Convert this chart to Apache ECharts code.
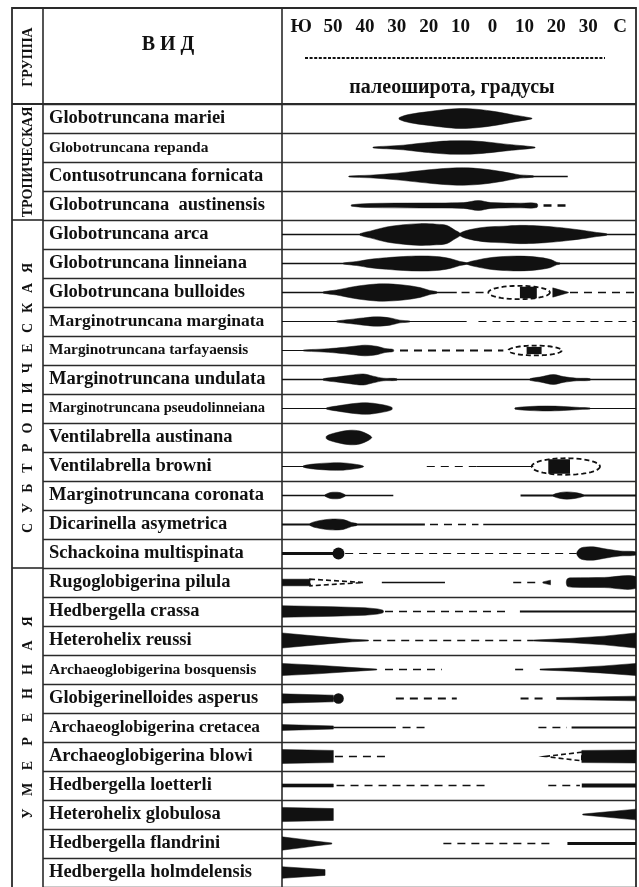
<!DOCTYPE html>
<html><head><meta charset="utf-8">
<script src="https://cdn.jsdelivr.net/npm/echarts@6/dist/echarts.min.js"></script>
<style>html,body{margin:0;padding:0;background:#fff}#c{width:639px;height:887px}</style>
</head><body><div id="c"></div>
<script>
// ================= DATA =================
const species = [
  'Globotruncana mariei', 'Globotruncana repanda', 'Contusotruncana fornicata', 'Globotruncana  austinensis',
  'Globotruncana arca', 'Globotruncana linneiana', 'Globotruncana bulloides', 'Marginotruncana marginata',
  'Marginotruncana tarfayaensis', 'Marginotruncana undulata', 'Marginotruncana pseudolinneiana', 'Ventilabrella austinana',
  'Ventilabrella browni', 'Marginotruncana coronata', 'Dicarinella asymetrica', 'Schackoina multispinata',
  'Rugoglobigerina pilula', 'Hedbergella crassa', 'Heterohelix reussi', 'Archaeoglobigerina bosquensis',
  'Globigerinelloides asperus', 'Archaeoglobigerina cretacea', 'Archaeoglobigerina blowi', 'Hedbergella loetterli',
  'Heterohelix globulosa', 'Hedbergella flandrini', 'Hedbergella holmdelensis'
];
const groupNames = ['ТРОПИЧЕСКАЯ', 'СУБТРОПИЧЕСКАЯ', 'УМЕРЕННАЯ'];
const groupSizes = [4, 12, 11];
const latTicks = [-60, -50, -40, -30, -20, -10, 0, 10, 20, 30, 40];
const latTickLabels = ['Ю', '50', '40', '30', '20', '10', '0', '10', '20', '30', 'С'];
const latRange = [-66, 45];

// solid range lines: [row, fromLat, toLat, thickness (share of row)]
const lines = [
  [2, 10, 23.6, 0.045], [4, -66, 45, 0.045], [5, -66, 45, 0.045], [6, -66, -11.2, 0.045],
  [7, -66, -8.1, 0.035], [8, -66, -57, 0.035], [9, -66, 45, 0.05], [10, -66, -50, 0.035],
  [10, 28, 45, 0.035], [12, -66, -58, 0.035], [12, -5.0, 12.8, 0.035], [13, -66, -31.1, 0.045],
  [13, 8.8, 45, 0.065], [14, -66, -21.2, 0.07], [14, -2.9, 45, 0.045], [15, -66, -49.4, 0.11],
  [16, -34.7, -14.9, 0.045], [17, 8.6, 45, 0.07], [21, -49.9, -30.3, 0.045], [21, 24.8, 45, 0.07],
  [23, 28, 45, 0.13], [25, 23.5, 45, 0.1]
];
// dashed (uncertain) ranges: [row, fromLat, toLat, thickness]
const dashes = [
  [3, 16, 24.1, 0.09], [6, -9.7, -1.8, 0.045], [6, 24.3, 45, 0.045], [7, -4.4, 45, 0.035],
  [8, -29, 3.4, 0.07], [12, -20.6, -5.0, 0.035], [14, -19.6, -4.4, 0.045], [15, -46.2, 26.4, 0.04],
  [16, 6.5, 13.9, 0.045], [17, -33.7, 5.5, 0.055], [18, -37.4, 12.8, 0.045], [19, -33.7, -15.9, 0.055],
  [19, 7.1, 9.9, 0.055], [20, -30.3, -11.2, 0.07], [20, 8.8, 17, 0.07], [21, -28.2, -20.6, 0.055],
  [21, 14.4, 23.3, 0.055], [22, -49.4, -32.1, 0.045], [23, -48.9, -0.8, 0.05], [23, 17.5, 27.4, 0.055],
  [25, -15.4, 18, 0.055]
];
// abundance lenses (smooth outline): [row, [[lat, thickness], ...]]
const lenses = [
  [0, [[-29.2,0.07],[-25.9,0.29],[-20.6,0.46],[-15.4,0.6],[-10.2,0.69],[-5.0,0.64],[1.3,0.46],[6.5,0.25],[12.3,0.03]]],
  [1, [[-37.4,0.035],[-33.2,0.09],[-28,0.16],[-22.7,0.29],[-17.5,0.4],[-13.3,0.46],[-7,0.46],[-1.8,0.38],[3.4,0.25],[8.6,0.14],[13.3,0.03]]],
  [2, [[-45,0.035],[-38.4,0.09],[-30,0.23],[-22.7,0.4],[-15.4,0.55],[-9.1,0.6],[-2.9,0.52],[3.4,0.32],[8.6,0.11],[12.8,0.05]]],
  [3, [[-44.2,0.05],[-38.4,0.14],[-22.7,0.17],[-9,0.2],[-4.4,0.34],[-0.5,0.2],[8.6,0.16],[13.9,0.14]]],
  [4, [[-41.5,0.06],[-38.4,0.23],[-33.2,0.52],[-28,0.67],[-22.7,0.75],[-17.5,0.71],[-14.4,0.63],[-11.7,0.29],[-10.2,0.09]]],
  [4, [[-10.2,0.09],[-7,0.34],[-1.8,0.52],[3.4,0.57],[8.6,0.63],[13.9,0.6],[19.1,0.52],[24.3,0.4],[29.5,0.25],[32.7,0.14],[35.8,0.05]]],
  [5, [[-46.8,0.035],[-42.6,0.14],[-38.4,0.29],[-33.2,0.4],[-28,0.48],[-22.7,0.52],[-17.5,0.48],[-13.3,0.34],[-10.2,0.14],[-8.1,0.05]]],
  [5, [[-8.1,0.05],[-5,0.23],[-0.8,0.4],[3.4,0.48],[8.6,0.51],[13.9,0.44],[18,0.29],[20.1,0.09],[21.2,0.035]]],
  [6, [[-53,0.05],[-48.9,0.17],[-43.6,0.4],[-38.4,0.55],[-34.2,0.6],[-28,0.52],[-22.7,0.34],[-19.6,0.14],[-17.5,0.06]]],
  [7, [[-48.9,0.035],[-44.7,0.14],[-40.5,0.25],[-36.3,0.32],[-32.1,0.25],[-29,0.09],[-25.9,0.035]]],
  [8, [[-59.3,0.035],[-54.1,0.09],[-48.9,0.17],[-43.6,0.29],[-40,0.37],[-36.3,0.29],[-33.7,0.14],[-31.1,0.07]]],
  [9, [[-53,0.06],[-48.9,0.17],[-44.7,0.29],[-40.5,0.38],[-37.4,0.23],[-34.2,0.09],[-30,0.06]]],
  [9, [[11.8,0.06],[14.9,0.17],[19.1,0.34],[22.2,0.2],[26.4,0.09],[30.6,0.06]]],
  [10, [[-52,0.05],[-48.9,0.17],[-43.6,0.34],[-39.5,0.4],[-35.3,0.29],[-31.6,0.09]]],
  [10, [[7.1,0.05],[11.8,0.14],[17,0.17],[22.2,0.14],[27.4,0.07],[30.6,0.04]]],
  [11, [[-52,0.1],[-48.9,0.34],[-44.7,0.5],[-41.5,0.44],[-38.9,0.2],[-37.9,0.03]]],
  [12, [[-59.3,0.05],[-56.2,0.17],[-50.9,0.25],[-46.8,0.25],[-42.6,0.14],[-40.5,0.035]]],
  [13, [[-52.5,0.05],[-50.9,0.2],[-49.4,0.23],[-47.8,0.2],[-46.2,0.05]]],
  [13, [[19.1,0.06],[21.2,0.2],[23.3,0.25],[25.9,0.2],[28.5,0.06]]],
  [14, [[-57.2,0.07],[-55.1,0.23],[-50.9,0.37],[-46.8,0.34],[-44.2,0.14],[-42.6,0.07]]],
  [15, [[26.5,0.1],[27.3,0.32],[28.5,0.43],[31.6,0.46],[34.8,0.34],[40,0.17],[45,0.11]]],
  [16, [[23.2,0.12],[23.6,0.28],[25,0.32],[35,0.35],[45,0.4]]]
];
// abundance wedges / bars (straight outline): [row, [[lat, thickness], ...]]
const wedges = [
  [6, [[18.9,0.32],[23.8,0.02]]],
  [16, [[-66,0.23],[-57.2,0.23]]],
  [16, [[15.8,0.04],[18.2,0.16]]],
  [17, [[-66,0.4],[-50,0.33],[-40,0.26],[-36,0.18],[-34.5,0.1],[-34.2,0.05]]],
  [18, [[-66,0.52],[-58,0.36],[-50,0.2],[-44,0.09],[-38.9,0.03]]],
  [18, [[12.8,0.03],[24,0.14],[35,0.3],[45,0.52]]],
  [19, [[-66,0.42],[-55,0.3],[-45,0.15],[-36.3,0.03]]],
  [19, [[14.9,0.03],[25,0.12],[35,0.25],[45,0.42]]],
  [20, [[-66,0.32],[-49.9,0.23]]],
  [20, [[20.1,0.07],[45,0.16]]],
  [21, [[-66,0.2],[-49.9,0.11]]],
  [22, [[-66,0.48],[-49.9,0.42]]],
  [22, [[28,0.42],[45,0.45]]],
  [23, [[-66,0.11],[-49.9,0.11]]],
  [24, [[-66,0.49],[-49.9,0.41]]],
  [24, [[28.3,0.03],[45,0.37]]],
  [25, [[-66,0.46],[-60,0.3],[-55,0.15],[-50.4,0.04]]],
  [26, [[-66,0.4],[-52.5,0.2]]]
];
// dashed ovals (isolated occurrences): [row, fromLat, toLat, height]
const ovals = [[6, -1.3, 18.0, 0.46], [8, 5.0, 21.7, 0.34], [12, 12.3, 33.7, 0.57]];
// dashed wedge outlines: [row, fromLat, toLat, thicknessFrom, thicknessTo]
const outlineWedges = [[16, -57.2, -40.5, 0.23, 0], [22, 16.5, 28, 0, 0.3]];
// black boxes inside ovals: [row, fromLat, toLat, height]
const boxes = [[6, 8.6, 13.9, 0.4], [8, 10.7, 15.4, 0.25], [12, 17.5, 24.3, 0.5]];
// dots: [row, lat, diameter]
const dots = [[15, -48.3, 0.41], [20, -48.3, 0.37]];

// ================= STYLE / LAYOUT =================
const FONT = "'Liberation Serif', 'Times New Roman', serif";
const INK = '#111';
const RULE = '#2a2a2a';
const frame = { left: 12, top: 8, col1: 43, col2: 282, right: 636, head: 104, rowsH: 787 };
const labelSizeDefault = 18.5;
const labelSize = {
  'Globotruncana repanda': 15.5, 'Marginotruncana marginata': 17.5, 'Marginotruncana tarfayaensis': 15.3,
  'Marginotruncana pseudolinneiana': 14.6, 'Archaeoglobigerina bosquensis': 15.6, 'Archaeoglobigerina cretacea': 17.3
};
const groupLetterGap = [0, 20, 24];
const groupLabelShift = [0, 4, -10];
const DASH = [8, 6];

const rich = {};
species.forEach((s, i) => {
  rich['r' + i] = { fontFamily: FONT, fontWeight: 'bold', fontSize: labelSize[s] || labelSizeDefault, color: INK };
});

const groupRanges = [];
(function () { let acc = 0; groupSizes.forEach(n => { groupRanges.push([acc, acc + n - 1]); acc += n; }); })();

function txt(t, x, y, size, rot) {
  return { type: 'text', x: x, y: y, rotation: rot || 0,
    style: { text: t, font: 'bold ' + size + 'px ' + FONT, fill: INK, textAlign: 'center', textVerticalAlign: 'middle', align: 'center', verticalAlign: 'middle' } };
}

function renderGroup(params, api) {
  const i = params.dataIndex;
  const [r0, r1] = groupRanges[i];
  const band = api.size([0, 1])[1];
  const yTop = api.coord([0, r0])[1] - band / 2;
  const yBot = api.coord([0, r1])[1] + band / 2;
  const cx = (frame.left + params.coordSys.x) / 2 + 1;
  const cy = (yTop + yBot) / 2 + groupLabelShift[i];
  const children = [];
  if (i > 0) children.push({ type: 'line', shape: { x1: frame.left, y1: yTop, x2: params.coordSys.x, y2: yTop }, style: { stroke: RULE, lineWidth: 1.6 } });
  const gap = groupLetterGap[i];
  const name = groupNames[i];
  if (!gap) children.push(txt(name, cx, cy, 14, Math.PI / 2));
  else {
    const ch = name.split('');
    const n = ch.length;
    ch.forEach((c, k) => children.push(txt(c, cx, cy + ((n - 1) / 2 - k) * gap, 14, Math.PI / 2)));
  }
  return { type: 'group', children };
}

function renderRange(src, dashed) {
  return function (params, api) {
    const [row, a, b, t] = src[params.dataIndex];
    const band = api.size([0, 1])[1];
    const p1 = api.coord([a, row]), p2 = api.coord([b, row]);
    return { type: 'line', shape: { x1: p1[0], y1: p1[1], x2: p2[0], y2: p2[1] },
      style: { stroke: INK, fill: 'none', lineWidth: Math.max(1, t * band), lineDash: dashed ? DASH : null } };
  };
}

function renderProfile(src, smooth) {
  return function (params, api) {
    const [row, prof] = src[params.dataIndex];
    const band = api.size([0, 1])[1];
    const top = [], bot = [];
    prof.forEach(([lat, t]) => {
      const p = api.coord([lat, row]);
      top.push([p[0], p[1] - t * band / 2]);
      bot.unshift([p[0], p[1] + t * band / 2]);
    });
    return { type: 'polygon', shape: { points: top.concat(bot), smooth: smooth }, style: { fill: INK, stroke: INK, lineWidth: 0.5 } };
  };
}

function renderOval(params, api) {
  const [row, a, b, h] = ovals[params.dataIndex];
  const band = api.size([0, 1])[1];
  const p1 = api.coord([a, row]), p2 = api.coord([b, row]);
  const cx = (p1[0] + p2[0]) / 2, cy = p1[1], rx = (p2[0] - p1[0]) / 2, ry = h * band / 2;
  const pts = [];
  for (let k = 0; k < 60; k++) { const th = k / 60 * 2 * Math.PI; pts.push([cx + rx * Math.cos(th), cy + ry * Math.sin(th)]); }
  return { type: 'polygon', shape: { points: pts }, style: { fill: 'none', stroke: INK, lineWidth: 1.8, lineDash: [5, 3] } };
}

function renderOutlineWedge(params, api) {
  const [row, a, b, t0, t1] = outlineWedges[params.dataIndex];
  const band = api.size([0, 1])[1];
  const p1 = api.coord([a, row]), p2 = api.coord([b, row]);
  const pts = [[p1[0], p1[1] - t0 * band / 2], [p2[0], p2[1] - t1 * band / 2], [p2[0], p2[1] + t1 * band / 2], [p1[0], p1[1] + t0 * band / 2]];
  return { type: 'polygon', shape: { points: pts }, style: { fill: 'none', stroke: INK, lineWidth: 1.6, lineDash: [5, 3] } };
}

function renderBox(params, api) {
  const [row, a, b, h] = boxes[params.dataIndex];
  const band = api.size([0, 1])[1];
  const p1 = api.coord([a, row]), p2 = api.coord([b, row]);
  return { type: 'rect', shape: { x: p1[0], y: p1[1] - h * band / 2, width: p2[0] - p1[0], height: h * band }, style: { fill: INK } };
}

function renderDot(params, api) {
  const [row, lat, d] = dots[params.dataIndex];
  const band = api.size([0, 1])[1];
  const p = api.coord([lat, row]);
  return { type: 'circle', shape: { cx: p[0], cy: p[1], r: d * band / 2 }, style: { fill: INK } };
}

function customSeries(name, data, renderItem) {
  return { type: 'custom', name, xAxisIndex: 1, yAxisIndex: 1, renderItem, data, encode: { x: 0, y: 1 }, silent: true, clip: true };
}

const chart = echarts.init(document.getElementById('c'), null, { renderer: 'canvas' });
chart.setOption({
  animation: false,
  backgroundColor: '#fff',
  grid: [
    { left: frame.col1, top: frame.head, width: frame.col2 - frame.col1, height: frame.rowsH },
    { left: frame.col2, top: frame.head, width: frame.right - frame.col2, height: frame.rowsH }
  ],
  xAxis: [
    { gridIndex: 0, type: 'value', min: 0, max: 1, show: false },
    { gridIndex: 1, type: 'value', min: latRange[0], max: latRange[1], interval: 2, position: 'top',
      axisLine: { show: false }, axisTick: { show: false }, splitLine: { show: false },
      axisLabel: { margin: 67, fontFamily: FONT, fontWeight: 'bold', fontSize: 19, color: INK,
        formatter: v => { const i = latTicks.indexOf(v); return i < 0 ? '' : latTickLabels[i]; } } }
  ],
  yAxis: [
    { gridIndex: 0, type: 'category', data: species, inverse: true,
      axisLine: { show: false }, axisTick: { show: false },
      splitLine: { show: true, interval: 0, lineStyle: { color: RULE, width: 1.4 } },
      axisLabel: { inside: true, interval: 0, margin: 6, formatter: (v, i) => '{r' + i + '|' + v + '}', rich } },
    { gridIndex: 1, type: 'category', data: species, inverse: true,
      axisLine: { show: false }, axisTick: { show: false }, axisLabel: { show: false },
      splitLine: { show: true, interval: 0, lineStyle: { color: RULE, width: 1.4 } } }
  ],
  graphic: [
    { type: 'rect', silent: true, shape: { x: frame.left, y: frame.top, width: frame.right - frame.left, height: 900 }, style: { fill: 'none', stroke: RULE, lineWidth: 1.8 } },
    { type: 'line', silent: true, shape: { x1: frame.col1, y1: frame.top, x2: frame.col1, y2: 900 }, style: { stroke: RULE, lineWidth: 1.6 } },
    { type: 'line', silent: true, shape: { x1: frame.col2, y1: frame.top, x2: frame.col2, y2: 900 }, style: { stroke: RULE, lineWidth: 1.6 } },
    { type: 'line', silent: true, shape: { x1: frame.left, y1: frame.head, x2: frame.right, y2: frame.head }, style: { stroke: RULE, lineWidth: 1.8 } },
    Object.assign(txt('ГРУППА', 28, 57, 14, Math.PI / 2), { silent: true }),
    Object.assign(txt('В И Д', 168, 45, 20), { silent: true }),
    { type: 'line', silent: true, shape: { x1: 305, y1: 58, x2: 605, y2: 58 }, style: { stroke: INK, lineWidth: 2, lineDash: [3, 1.6] } },
    Object.assign(txt('палеоширота, градусы', 452, 88, 20), { silent: true })
  ],
  series: [
    { type: 'custom', name: 'groups', xAxisIndex: 0, yAxisIndex: 0, clip: false, silent: true,
      renderItem: renderGroup, data: groupRanges.map(r => [0, r[0]]), encode: { x: 0, y: 1 } },
    customSeries('lines', lines.map(d => [d[1], d[0]]), renderRange(lines, false)),
    customSeries('dashes', dashes.map(d => [d[1], d[0]]), renderRange(dashes, true)),
    customSeries('wedges', wedges.map(d => [d[1][0][0], d[0]]), renderProfile(wedges, 0)),
    customSeries('lenses', lenses.map(d => [d[1][0][0], d[0]]), renderProfile(lenses, 0.35)),
    customSeries('ovals', ovals.map(d => [d[1], d[0]]), renderOval),
    customSeries('outlineWedges', outlineWedges.map(d => [d[1], d[0]]), renderOutlineWedge),
    customSeries('boxes', boxes.map(d => [d[1], d[0]]), renderBox),
    customSeries('dots', dots.map(d => [d[1], d[0]]), renderDot)
  ]
});
</script>
</body></html>
